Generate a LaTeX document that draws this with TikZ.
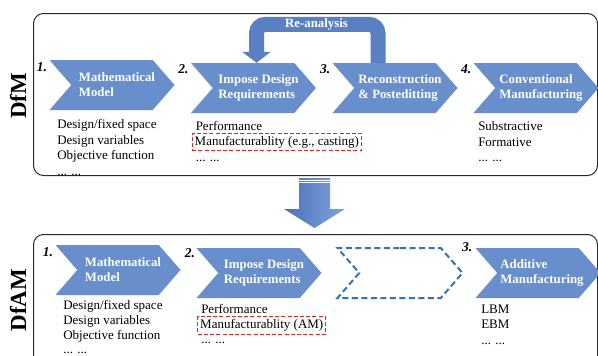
\documentclass[tikz,border=0pt]{standalone}
\usepackage{fontspec}
\setmainfont{Liberation Serif}
\usetikzlibrary{arrows.meta, positioning, shapes.symbols}
\definecolor{chblue}{RGB}{104,143,203}
\definecolor{chdash}{RGB}{52,114,182}
\definecolor{reblue}{RGB}{88,128,195}
\definecolor{arlight}{RGB}{130,165,220}
\definecolor{ardark}{RGB}{72,112,186}
\definecolor{boxred}{RGB}{228,36,36}
\definecolor{framegray}{RGB}{40,40,40}

\begin{document}
\begin{tikzpicture}[
    x=1pt, y=-1pt,
    chev/.style={
        signal, signal to=east, signal from=west, signal pointer angle=98,
        fill=chblue, draw=none, minimum width=125pt, minimum height=50pt,
        inner sep=0pt
    },
    chevghost/.style={
        chev, fill=none, draw=chdash, line width=2pt,
        dash pattern=on 6pt off 3.5pt
    },
    chevtxt/.style={
        text=white, font=\fontsize{12.8}{15}\selectfont\bfseries,
        align=left, inner sep=0pt
    },
    num/.style={font=\fontsize{13.5}{15}\selectfont\bfseries\itshape, inner sep=0pt},
    listtxt/.style={font=\fontsize{13}{15.5}\selectfont, align=left, inner sep=0pt},
    redbox/.style={
        draw=boxred, line width=1.3pt, dash pattern=on 4pt off 2.2pt,
        font=\fontsize{13}{15}\selectfont, inner xsep=2.5pt, inner ysep=2.8pt
    },
    frame/.style={draw=framegray, line width=1pt, rounded corners=10pt, inner sep=0pt},
    side/.style={rotate=90, font=\fontsize{23}{24}\selectfont\bfseries, inner sep=0pt},
    reana/.style={
        draw=reblue, line width=15pt, rounded corners=9pt,
        -{Triangle[width=28pt, length=11pt]}
    },
    reatxt/.style={text=white, font=\fontsize{12.8}{15}\selectfont\bfseries, inner sep=0pt}
]
\useasboundingbox (0,0) rectangle (598,356);
\clip (0,0) rectangle (598,356);

% frames
\node[frame, minimum width=564pt, minimum height=162pt, anchor=north west] (dfmbox) at (33,13) {};
\node[frame, minimum width=564pt, minimum height=150pt, anchor=north west] (dfambox) at (33,234) {};
\node[side] (dfm) at (18,96) {DfM};
\node[side] (dfam) at (18,300) {DfAM};

% DfM row
\node[chev] (mm) at (112,85) {};
\node[chev] (idr) at (253.5,88) {};
\node[chev] (rp) at (395,88) {};
\node[chev] (cm) at (536,88) {};

\node[chevtxt] (mmtxt) at ([xshift=5pt]mm.center) {Mathematical\\Model};
\node[chevtxt] (idrtxt) at ([xshift=5pt]idr.center) {Impose Design\\Requirements};
\node[chevtxt] (rptxt) at ([xshift=5pt]rp.center) {Reconstruction\\\& Posteditting};
\node[chevtxt] (cmtxt) at ([xshift=5pt]cm.center) {Conventional\\Manufacturing};

\node[num] (n1) at ([xshift=-7pt,yshift=-7pt]mm.north west) {1.};
\node[num] (n2) at ([xshift=-7pt,yshift=-6pt]idr.north west) {2.};
\node[num] (n3) at ([xshift=-7pt,yshift=-6pt]rp.north west) {3.};
\node[num] (n4) at ([xshift=-7pt,yshift=-6pt]cm.north west) {4.};

\node[listtxt, anchor=north west] (mmlist) at ([xshift=8pt,yshift=-9pt]mm.south west)
    {Design/fixed space\\Design variables\\Objective function\\... ...};
\node[listtxt, anchor=base west] (perf) at ([xshift=5pt,yshift=-17pt]idr.south west) {Performance};
\node[redbox, anchor=base west] (manu) at ([xshift=-4pt,yshift=-15pt]perf.base west)
    {Manufacturablity (e.g., casting)};
\node[listtxt, anchor=base west] (idrdots) at ([xshift=4pt,yshift=-10pt]manu.south west) {... ...};
\node[listtxt, anchor=north west] (cmlist) at ([xshift=5pt,yshift=-8.5pt]cm.south west)
    {Substractive\\Formative\\... ...};

\draw[reana] ([xshift=-17pt]rp.north) -- ++(0,-38.5) -| ([xshift=3pt]idr.north);
\node[reatxt] (reatext) at (316.5,24) {Re-analysis};

% big arrow DfM -> DfAM
\shade[left color=ardark, right color=arlight]
    (299,178) -- (330,178) -- (330,209) -- (345,209) -- (314.5,228) -- (284,209) -- (299,209) -- cycle;
\draw[white, line width=0.7pt] (299,180) -- (330,180) (299,182.5) -- (330,182.5);

% DfAM row
\node[chev] (amm) at (118,270) {};
\node[chev] (aidr) at (259,273) {};
\node[chevghost] (aghost) at (400,273) {};
\node[chev] (am) at (538,273) {};

\node[chevtxt] (ammtxt) at ([xshift=5pt]amm.center) {Mathematical\\Model};
\node[chevtxt] (aidrtxt) at ([xshift=5pt]aidr.center) {Impose Design\\Requirements};
\node[chevtxt] (amtxt) at ([xshift=4pt]am.center) {Additive\\Manufacturing};

\node[num] (an1) at ([xshift=-7pt,yshift=-7pt]amm.north west) {1.};
\node[num] (an2) at ([xshift=-6pt,yshift=-5pt]aidr.north west) {2.};
\node[num] (an3) at ([xshift=-8pt,yshift=1pt]am.north west) {3.};

\node[listtxt, anchor=north west, font=\fontsize{13}{14.8}\selectfont] (ammlist)
    at ([xshift=8pt,yshift=-5pt]amm.south west)
    {Design/fixed space\\Design variables\\Objective function\\... ...};
\node[listtxt, anchor=base west] (aperf) at ([xshift=5pt,yshift=-15.5pt]aidr.south west) {Performance};
\node[redbox, anchor=base west] (amanu) at ([xshift=-4pt,yshift=-15pt]aperf.base west)
    {Manufacturablity (AM)};
\node[listtxt, anchor=base west] (aidrdots) at ([xshift=4pt,yshift=-9pt]amanu.south west) {... ...};
\node[listtxt, anchor=north west] (amlist) at ([xshift=6pt,yshift=-6.5pt]am.south west)
    {LBM\\EBM\\... ...};

\end{tikzpicture}
\end{document}
